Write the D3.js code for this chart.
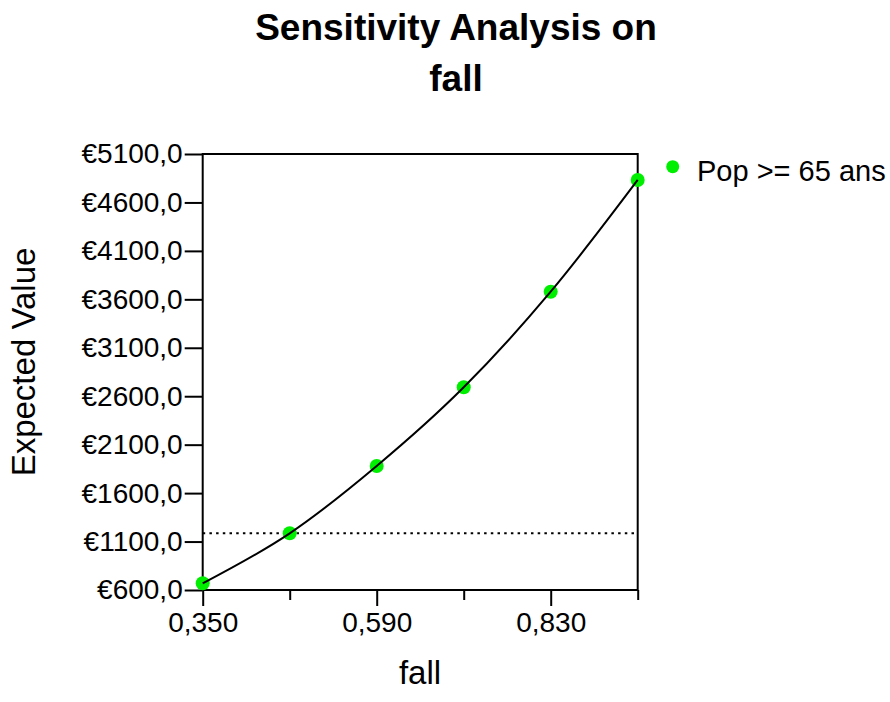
<!DOCTYPE html>
<html>
<head>
<meta charset="utf-8">
<script src="https://cdn.jsdelivr.net/npm/d3@7"></script>
<style>
  html, body { margin: 0; padding: 0; background: #fff; }
  svg { display: block; font-family: "Liberation Sans", Arial, sans-serif; }
</style>
</head>
<body>
<svg id="chart" width="890" height="702"></svg>
<script>
// ---- data ----
const titleLines = ["Sensitivity Analysis on", "fall"];
const xLabel = "fall";
const yLabel = "Expected Value";
const seriesName = "Pop >= 65 ans";
const xValues = [0.35, 0.47, 0.59, 0.71, 0.83, 0.95];
const yValues = [669, 1185, 1880, 2692, 3679, 4832];
const baselineValue = 1185;
const yTicks = [600, 1100, 1600, 2100, 2600, 3100, 3600, 4100, 4600, 5100];
const xMajorTicks = [0.35, 0.59, 0.83];
const xMinorTicks = [0.47, 0.71, 0.95];
const xDomain = [0.35, 0.95];
const yDomain = [600, 5100];

// ---- layout ----
const svg = d3.select("#chart");
const pL = 202.7, pR = 637.7, pT = 154, pB = 590;
const x = d3.scaleLinear().domain(xDomain).range([pL, pR]);
const y = d3.scaleLinear().domain(yDomain).range([pB, pT]);

const loc = d3.formatLocale({decimal: ",", thousands: "", grouping: [3], currency: ["€", ""]});
const fy = loc.format("$.1f");
const fx = loc.format(".3f");

// title
const title = svg.append("text").attr("text-anchor", "middle")
  .attr("font-size", 37).attr("font-weight", "bold");
title.append("tspan").attr("x", 456).attr("y", 40).text(titleLines[0]);
title.append("tspan").attr("x", 456).attr("y", 91).text(titleLines[1]);

// frame
svg.append("rect").attr("x", pL).attr("y", pT)
  .attr("width", pR - pL).attr("height", pB - pT)
  .attr("fill", "none").attr("stroke", "#000").attr("stroke-width", 2);

// y axis
const yAxis = d3.axisLeft(y).tickValues(yTicks).tickSize(18).tickPadding(2).tickFormat(fy);
const gy = svg.append("g").attr("transform", `translate(${pL},0)`).call(yAxis);
gy.select(".domain").remove();
gy.selectAll(".tick line").attr("stroke", "#000").attr("stroke-width", 2);
gy.selectAll(".tick text").attr("font-size", 28).attr("fill", "#000")
  .attr("font-family", "'Liberation Sans', Arial, sans-serif");

// x axis major
const xAxisMajor = d3.axisBottom(x).tickValues(xMajorTicks).tickSize(16).tickPadding(6).tickFormat(fx);
const gx = svg.append("g").attr("transform", `translate(0,${pB})`).call(xAxisMajor);
gx.select(".domain").remove();
gx.selectAll(".tick line").attr("stroke", "#000").attr("stroke-width", 2);
gx.selectAll(".tick text").attr("font-size", 28).attr("fill", "#000")
  .attr("font-family", "'Liberation Sans', Arial, sans-serif");

// x axis minor
const xAxisMinor = d3.axisBottom(x).tickValues(xMinorTicks).tickSize(10).tickFormat("");
const gx2 = svg.append("g").attr("transform", `translate(0,${pB})`).call(xAxisMinor);
gx2.select(".domain").remove();
gx2.selectAll(".tick line").attr("stroke", "#000").attr("stroke-width", 2);

// axis titles
svg.append("text").attr("x", 420).attr("y", 684).attr("text-anchor", "middle")
  .attr("font-size", 33).text(xLabel);
svg.append("text").attr("transform", "translate(35,362) rotate(-90)")
  .attr("text-anchor", "middle").attr("font-size", 33).text(yLabel);

// baseline dotted
svg.append("line").attr("x1", pL).attr("x2", pR)
  .attr("y1", y(baselineValue)).attr("y2", y(baselineValue))
  .attr("stroke", "#000").attr("stroke-width", 2).attr("stroke-dasharray", "2.5,4.2");

// series
const pts = xValues.map((v, i) => [v, yValues[i]]);
const line = d3.line().x(d => x(d[0])).y(d => y(d[1])).curve(d3.curveMonotoneX);
svg.append("g").selectAll("circle").data(pts).join("circle")
  .attr("cx", d => x(d[0])).attr("cy", d => y(d[1])).attr("r", 7)
  .attr("fill", "#00ee00");
svg.append("path").datum(pts).attr("d", line)
  .attr("fill", "none").attr("stroke", "#000").attr("stroke-width", 2);

// legend
svg.append("circle").attr("cx", 672.7).attr("cy", 166.7).attr("r", 6.5).attr("fill", "#00ee00");
svg.append("text").attr("x", 697).attr("y", 181).attr("font-size", 29).text(seriesName);
</script>
</body>
</html>
